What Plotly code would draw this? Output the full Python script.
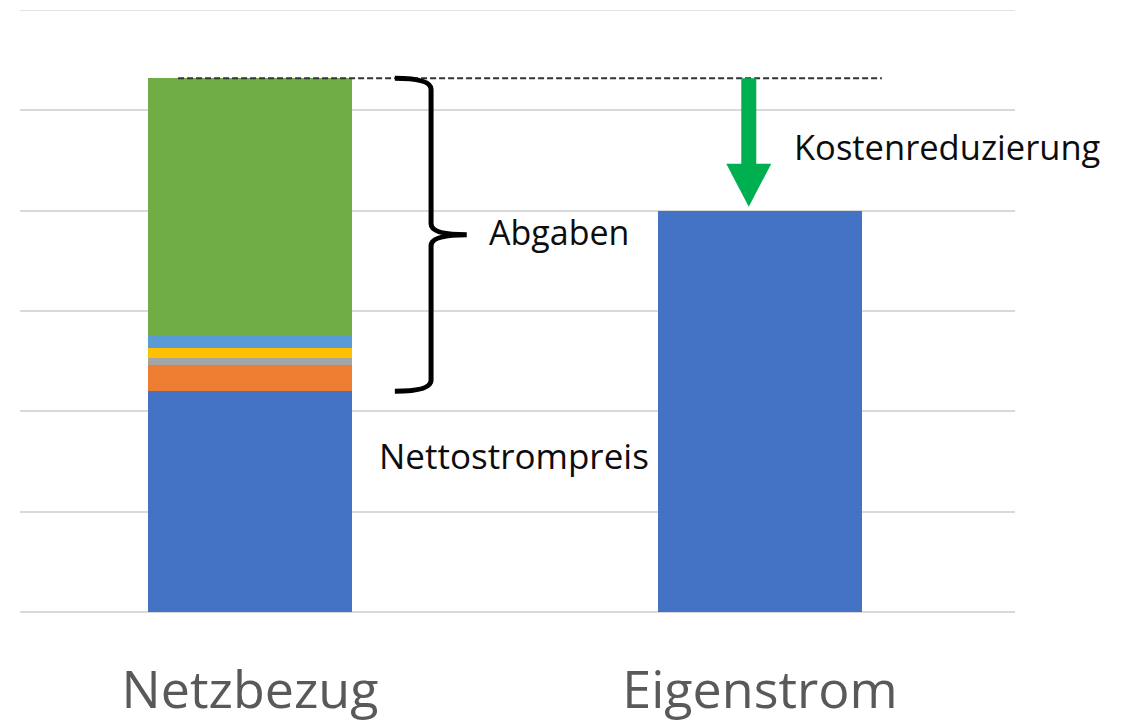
import plotly.graph_objects as go

# ---- data ----
categories = ["Netzbezug", "Eigenstrom"]
x_pos = [0, 1]
nettostrompreis = [11.0, 20.0]
abgabe_1 = [1.3, 0]      # orange
abgabe_2 = [0.35, 0]     # gray
abgabe_3 = [0.5, 0]      # yellow
abgabe_4 = [0.6, 0]      # light blue
abgabe_5 = [12.85, 0]    # green

series = [
    ("Nettostrompreis", nettostrompreis, "#4472C4"),
    ("Abgabe 1", abgabe_1, "#ED7D31"),
    ("Abgabe 2", abgabe_2, "#A5A5A5"),
    ("Abgabe 3", abgabe_3, "#FFC000"),
    ("Abgabe 4", abgabe_4, "#5B9BD5"),
    ("Abgabe 5", abgabe_5, "#70AD47"),
]

fig = go.Figure()
for name, vals, col in series:
    fig.add_trace(go.Bar(x=x_pos, y=vals, name=name, marker=dict(color=col, line=dict(width=0)),
                         width=0.4, showlegend=False, hoverinfo="y"))

total_netz = sum(v[0] for _, v, _ in series)
base_netz = nettostrompreis[0]
eigen = nettostrompreis[1]

PX = 1 / 510.0          # x data units per pixel
PY = 5 / 100.33         # y data units per pixel

# dashed reference line at the top of the Netzbezug stack
fig.add_shape(type="line", xref="x", yref="y", x0=-0.141, x1=1.239, y0=total_netz, y1=total_netz,
              line=dict(color="#333333", width=2, dash="6px,3px"))

# curly brace over the "Abgaben" segments
xl, xv, xt = 0.284, 0.355, 0.425
mid = (total_netz + base_netz) / 2
yt, yb = total_netz, base_netz
c = 11 * PY
brace = (f"M {xl},{yt} Q {xv},{yt} {xv},{yt - c} "
         f"L {xv},{mid + c} Q {xv},{mid} {xt},{mid} "
         f"Q {xv},{mid} {xv},{mid - c} "
         f"L {xv},{yb + c} Q {xv},{yb} {xl},{yb}")
fig.add_shape(type="path", xref="x", yref="y", path=brace,
              line=dict(color="black", width=5))

# green arrow (cost reduction)
ax = 0.978
sw, hw = 7.5 * PX, 22.5 * PX
neck = eigen + 47 * PY
tip = eigen + 4 * PY
arrow = (f"M {ax - sw},{total_netz} L {ax + sw},{total_netz} L {ax + sw},{neck} "
         f"L {ax + hw},{neck} L {ax},{tip} L {ax - hw},{neck} L {ax - sw},{neck} Z")
fig.add_shape(type="path", xref="x", yref="y", path=arrow,
              fillcolor="#00B050", line=dict(width=0))

# top gridline (make sure it is drawn at the range edge)
fig.add_shape(type="line", xref="paper", yref="y", x0=0, x1=1, y0=30, y1=30,
              line=dict(color="#D9D9D9", width=1.5), layer="below")

font_txt = dict(family="Open Sans", size=35, color="#0D0D0D")
fig.add_annotation(x=0.465, y=mid + 3 * PY, xref="x", yref="y", text="Abgaben", showarrow=False,
                   xanchor="left", yanchor="middle", font=dict(family="Open Sans", size=34, color="#0D0D0D"))
fig.add_annotation(x=0.249, y=7.79, xref="x", yref="y", text="Nettostrompreis", showarrow=False,
                   xanchor="left", yanchor="middle", font=font_txt)
fig.add_annotation(x=1.062, y=23.19, xref="x", yref="y", text="Kostenreduzierung", showarrow=False,
                   xanchor="left", yanchor="middle", font=dict(family="Open Sans", size=34.5, color="#0D0D0D"))

fig.update_layout(
    width=1125, height=721,
    margin=dict(l=12, r=118, t=2, b=117),
    paper_bgcolor="white", plot_bgcolor="white",
    barmode="stack",
    bargap=0,
    xaxis=dict(range=[-0.451, 1.5], tickvals=x_pos, ticktext=categories, showgrid=False,
               zeroline=False, showline=False, ticks="", automargin=False,
               tickfont=dict(family="Open Sans", size=52, color="#595959"),
               ticklabelstandoff=43),
    yaxis=dict(range=[0, 30], dtick=5, showgrid=True, gridcolor="#D9D9D9", gridwidth=1.5,
               zeroline=True, zerolinecolor="#D9D9D9", zerolinewidth=1.5, automargin=False,
               showticklabels=False, ticks="", showline=False),
)

fig.write_html("out.html")
